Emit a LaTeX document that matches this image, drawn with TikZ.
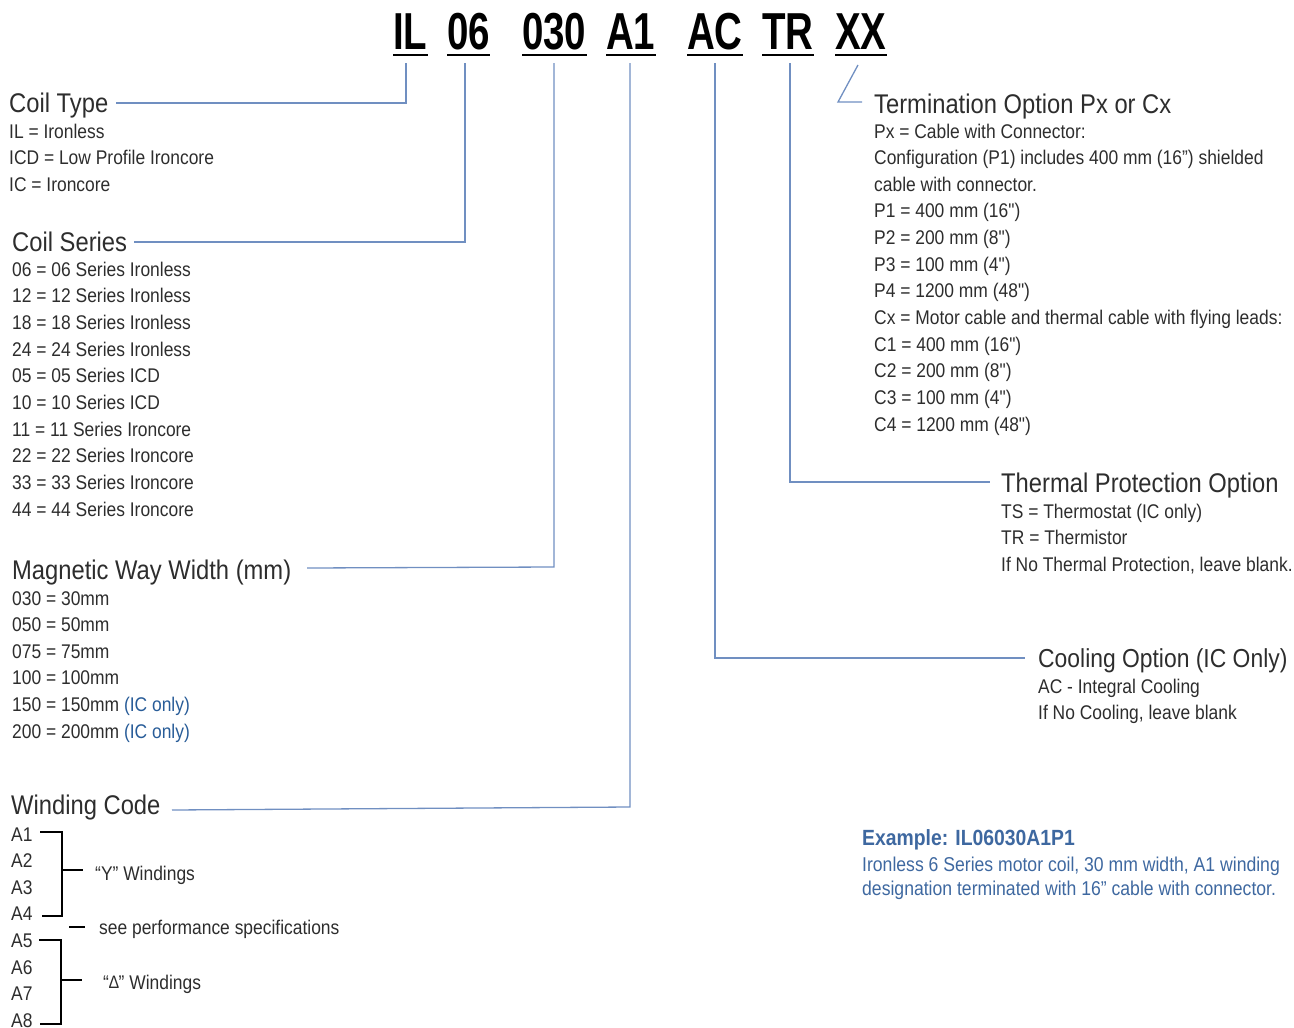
\documentclass[tikz,border=0pt]{standalone}
\usepackage{fontspec}
\setmainfont[FakeStretch=0.88, Ligatures=TeXOff]{Liberation Sans}
\newfontfamily\titlefont[FakeStretch=0.74]{Liberation Sans}
\definecolor{txt}{RGB}{45,45,45}
\definecolor{lc}{RGB}{112,143,193}
\definecolor{exblue}{RGB}{62,104,160}
\definecolor{icblue}{RGB}{40,92,152}
\begin{document}
\begin{tikzpicture}[x=1pt,y=-1pt,
 body/.style={font=\fontsize{19.8}{22}\selectfont, text=txt, inner sep=0pt, anchor=base west},
 head/.style={font=\fontsize{27}{30}\selectfont, text=txt, inner sep=0pt, anchor=base west},
 code/.style={font=\titlefont\bfseries\fontsize{52}{56}\selectfont, text=black, inner sep=0pt, anchor=base west},
 uline/.style={draw=black, line width=2.7pt},
 conn/.style={draw=lc, line width=1.3pt},
 brk/.style={draw=black, line width=2.4pt},
 exhead/.style={font=\bfseries\fontsize{22}{24}\selectfont, text=exblue, inner sep=0pt, anchor=base west},
 ex/.style={font=\fontsize{20}{22}\selectfont, text=exblue, inner sep=0pt, anchor=base west}]
\useasboundingbox (0,0) rectangle (1294,1028);

% title codes
\node[code] (tIL) at (393,49) {IL};
\node[code] (t06) at (447,49) {06};
\node[code] (t030) at (522,49) {030};
\node[code] (tA1) at (606,49) {A1};
\node[code] (tAC) at (687,49) {AC};
\node[code] (tTR) at (762,49) {TR};
\node[code] (tXX) at (835,49) {XX};
\foreach \n in {tIL,t06,t030,tA1,tAC,tTR,tXX}
  \draw[uline] ([yshift=-6pt]\n.base west) -- ([yshift=-6pt]\n.base east);

% coil type
\node[head] (hType) at (9,112) {Coil Type};
\foreach \t [count=\i] in {IL = Ironless, ICD = Low Profile Ironcore, IC = Ironcore}
  \node[body] (ty\i) at (9,{138+26.8*(\i-1)}) {\t};

% coil series
\node[head] (hSeries) at (12,251) {Coil Series};
\foreach \t [count=\i] in {06 = 06 Series Ironless, 12 = 12 Series Ironless, 18 = 18 Series Ironless, 24 = 24 Series Ironless, 05 = 05 Series ICD, 10 = 10 Series ICD, 11 = 11 Series Ironcore, 22 = 22 Series Ironcore, 33 = 33 Series Ironcore, 44 = 44 Series Ironcore}
  \node[body] (se\i) at (12,{276+26.67*(\i-1)}) {\t};

% magnetic way width
\node[head] (hWidth) at (12,579) {Magnetic Way Width (mm)};
\foreach \t [count=\i] in {030 = 30mm, 050 = 50mm, 075 = 75mm, 100 = 100mm, {150 = 150mm \textcolor{icblue}{(IC only)}}, {200 = 200mm \textcolor{icblue}{(IC only)}}}
  \node[body] (wi\i) at (12,{605+26.6*(\i-1)}) {\t};

% winding code
\node[head] (hWind) at (11,814) {Winding Code};
\foreach \t [count=\i] in {A1,A2,A3,A4,A5,A6,A7,A8}
  \node[body] (wc\i) at (11,{841+26.6*(\i-1)}) {\t};
\node[body] (yw) at (95,880) {“Y” Windings};
\node[body] (sp) at (99,934) {see performance specifications};
\node[body] (dw) at (103,989) {“\raisebox{1pt}{\fontsize{18}{18}\selectfont ∆}” Windings};
\draw[brk] (40,832) -- (62,832) -- (62,916) -- (42,916);
\draw[brk] (62,870) -- (83,870);
\draw[brk] (69,927) -- (85,927);
\draw[brk] (39,940) -- (61,940) -- (61,1024) -- (40,1024);
\draw[brk] (61,980) -- (82,980);

% termination
\node[head] (hTerm) at (874,113) {Termination Option Px or Cx};
\foreach \t [count=\i] in {Px = Cable with Connector:, Configuration (P1) includes 400 mm (16”) shielded, cable with connector., P1 = 400 mm (16"), P2 = 200 mm (8"), P3 = 100 mm (4"), P4 = 1200 mm (48"), Cx = Motor cable and thermal cable with flying leads:, C1 = 400 mm (16"), C2 = 200 mm (8"), C3 = 100 mm (4"), C4 = 1200 mm (48")}
  \node[body] (te\i) at (874,{138+26.65*(\i-1)}) {\t};

% thermal
\node[head] (hTherm) at (1001,492) {Thermal Protection Option};
\foreach \t [count=\i] in {TS = Thermostat (IC only), TR = Thermistor, {If No Thermal Protection, leave blank.}}
  \node[body] (th\i) at (1001,{518+26.6*(\i-1)}) {\t};

% cooling
\node[head, font=\fontsize{26}{30}\selectfont] (hCool) at (1038,667) {Cooling Option (IC Only)};
\node[body] (co1) at (1038,693) {AC - Integral Cooling};
\node[body] (co2) at (1038,719.6) {If No Cooling, leave blank};

% example
\node[exhead] (exh) at (862,845) {Example: IL06030A1P1};
\node[ex] (ex1) at (862,871) {Ironless 6 Series motor coil, 30 mm width, A1 winding};
\node[ex] (ex2) at (862,895) {designation terminated with 16” cable with connector.};

% connectors
\coordinate (pIL) at (406,63);   \coordinate (eIL) at (116,103);
\coordinate (p06) at (465,63);   \coordinate (e06) at (134,242);
\coordinate (p030) at (554,63);  \coordinate (e030) at (307,568);
\coordinate (pA1) at (630,63);   \coordinate (kA1) at (630,807); \coordinate (eA1) at (172,810);
\coordinate (pAC) at (715,63);   \coordinate (eAC) at (1025,658);
\coordinate (pTR) at (790,63);   \coordinate (eTR) at (990,482);
\coordinate (pXX) at (858,65);   \coordinate (kXX) at (838,102); \coordinate (eXX) at (862,102);
\draw[conn] (pIL) |- (eIL);
\draw[conn] (p06) |- (e06);
\draw[conn] (p030) -- (554,567) -- (e030);
\draw[conn] (pA1) -- (kA1) -- (eA1);
\draw[conn] (pAC) |- (eAC);
\draw[conn] (pTR) |- (eTR);
\draw[conn] (pXX) -- (kXX) -- (eXX);
\end{tikzpicture}
\end{document}
